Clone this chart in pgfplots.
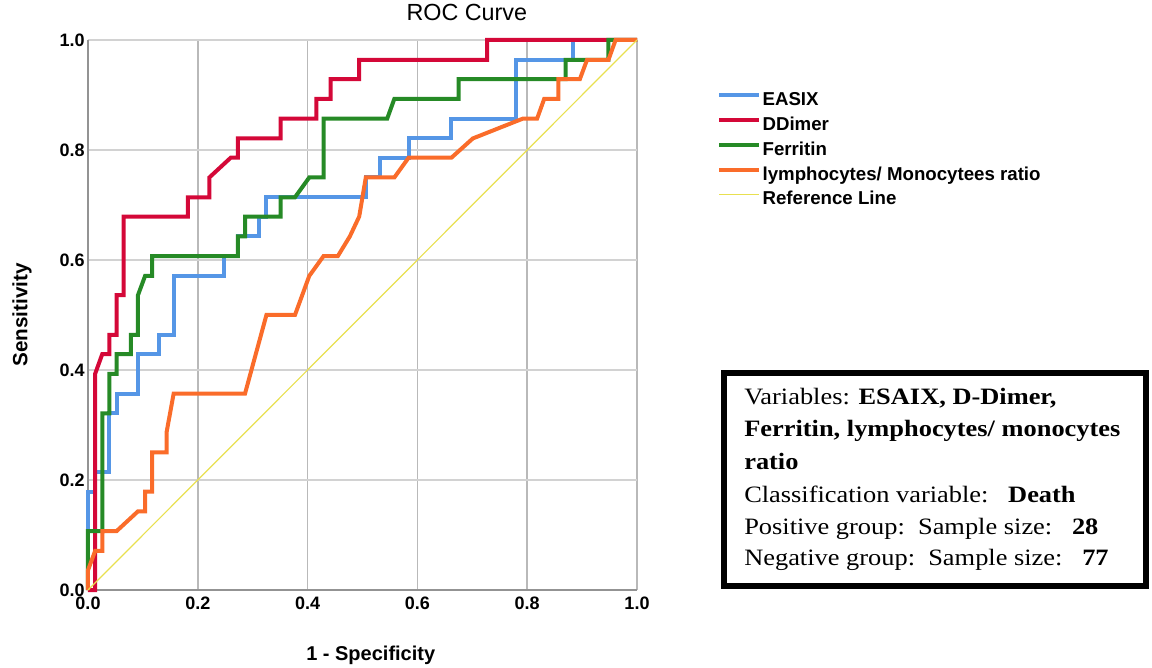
\documentclass[border=0pt]{standalone}
\usepackage{pgfplots}
\pgfplotsset{compat=1.18}
\usepackage{fontspec}
\setmainfont{Liberation Sans}
\newfontfamily\timesfont[FakeStretch=1.125]{Liberation Serif}
\definecolor{cEasix}{RGB}{85,150,230}
\definecolor{cDdimer}{RGB}{212,8,56}
\definecolor{cFerritin}{RGB}{38,138,38}
\definecolor{cLymph}{RGB}{250,108,42}
\definecolor{cRef}{RGB}{232,224,80}
\begin{document}
\begin{tikzpicture}
\useasboundingbox (0pt,0pt) rectangle (864pt,500.25pt);
\begin{axis}[
  at={(66pt,57.75pt)}, anchor=south west,
  scale only axis, width=411.75pt, height=412.5pt,
  xmin=0, xmax=1, ymin=0, ymax=1,
  xtick={0,0.2,0.4,0.6,0.8,1}, ytick={0,0.2,0.4,0.6,0.8,1},
  axis x line*=bottom, axis y line*=left,
  axis line style={draw=gray!85, line width=1.4pt},
  xmajorgrids, ymajorgrids,
  x grid style={draw=gray!55, line width=1.1pt},
  y grid style={draw=gray!35, line width=1.4pt},
  major tick length=0pt,
  clip=false,
  /pgf/number format/assume math mode=true,
  tick label style={font=\bfseries\fontsize{13.5}{15}\selectfont},
  xticklabel style={yshift=-2pt, /pgf/number format/.cd, fixed, fixed zerofill, precision=1},
  yticklabel style={xshift=1pt, /pgf/number format/.cd, fixed, fixed zerofill, precision=1},
  title={ROC Curve},
  title style={at={(axis description cs:0.69,1.036)}, anchor=center, font=\fontsize{17.5}{19}\selectfont},
  xlabel={1 - Specificity},
  xlabel style={at={(axis description cs:0.515,-0.118)}, anchor=center, font=\bfseries\fontsize{15}{17}\selectfont},
  ylabel={Sensitivity},
  ylabel style={at={(axis description cs:-0.1202,0.5)}, anchor=center, font=\bfseries\fontsize{15.5}{17}\selectfont},
  legend cell align=left,
  legend image code/.code={\draw[#1] (0pt,0pt) -- (30pt,0pt);},
  legend style={at={(axis description cs:1.1457,0.9225)}, anchor=north west, draw=none, fill=none,
    inner sep=0pt, row sep=0pt, column sep=1pt,
    font=\bfseries\fontsize{14}{16}\selectfont,
    nodes={inner sep=0pt, text height=17.05pt, text depth=1.55pt}},
]
\addplot[cEasix, line width=3pt] coordinates {
(0,0) (0,0.179) (0.013,0.179) (0.013,0.214) (0.039,0.214) (0.039,0.321) (0.052,0.321) (0.052,0.357)
(0.091,0.357) (0.091,0.429) (0.130,0.429) (0.130,0.464) (0.156,0.464) (0.156,0.571) (0.247,0.571)
(0.247,0.607) (0.273,0.607) (0.273,0.643) (0.312,0.643) (0.312,0.679) (0.325,0.679) (0.325,0.714)
(0.506,0.714) (0.506,0.75) (0.532,0.75) (0.532,0.786) (0.584,0.786) (0.584,0.821) (0.662,0.821)
(0.662,0.857) (0.779,0.857) (0.779,0.964) (0.883,0.964) (0.883,1) (1,1)};
\addlegendentry{EASIX}
\addplot[cDdimer, line width=3pt] coordinates {
(0,0) (0.013,0) (0.013,0.393) (0.026,0.429) (0.039,0.429) (0.039,0.464) (0.052,0.464) (0.052,0.536)
(0.065,0.536) (0.065,0.679) (0.182,0.679) (0.182,0.714) (0.221,0.714) (0.221,0.75) (0.260,0.786)
(0.273,0.786) (0.273,0.821) (0.351,0.821) (0.351,0.857) (0.416,0.857) (0.416,0.893) (0.442,0.893)
(0.442,0.929) (0.494,0.929) (0.494,0.964) (0.727,0.964) (0.727,1) (1,1)};
\addlegendentry{DDimer}
\addplot[cFerritin, line width=3pt] coordinates {
(0,0) (0,0.107) (0.026,0.107) (0.026,0.321) (0.039,0.321) (0.039,0.393) (0.052,0.393) (0.052,0.429)
(0.078,0.429) (0.078,0.464) (0.091,0.464) (0.091,0.536) (0.104,0.571) (0.117,0.571) (0.117,0.607)
(0.273,0.607) (0.273,0.643) (0.286,0.643) (0.286,0.679) (0.351,0.679) (0.351,0.714) (0.377,0.714)
(0.403,0.75) (0.429,0.75) (0.429,0.857) (0.545,0.857) (0.558,0.893) (0.675,0.893) (0.675,0.929)
(0.870,0.929) (0.870,0.964) (0.948,0.964) (0.948,1) (1,1)};
\addlegendentry{Ferritin}
\addplot[cLymph, line width=3pt] coordinates {
(0,0) (0,0.036) (0.013,0.071) (0.026,0.071) (0.026,0.107) (0.052,0.107) (0.091,0.143) (0.104,0.143)
(0.104,0.179) (0.117,0.179) (0.117,0.25) (0.143,0.25) (0.143,0.286) (0.156,0.357) (0.286,0.357)
(0.325,0.5) (0.377,0.5) (0.403,0.571) (0.429,0.607) (0.455,0.607) (0.477,0.643) (0.494,0.679)
(0.506,0.75) (0.558,0.75) (0.584,0.786) (0.662,0.786) (0.701,0.821) (0.792,0.857) (0.818,0.857)
(0.831,0.893) (0.857,0.893) (0.857,0.929) (0.896,0.929) (0.909,0.964) (0.948,0.964) (0.961,1) (1,1)};
\addlegendentry{lymphocytes/ Monocytees ratio}
\addplot[cRef, line width=0.9pt] coordinates {(0,0) (1,1)};
\addlegendentry{Reference Line}
\end{axis}
\draw[line width=4.5pt] (543pt,220.5pt) rectangle (859.5pt,60.75pt);
\begin{scope}[every node/.style={anchor=base west, inner sep=0pt, font=\timesfont\fontsize{17.6}{21}\selectfont}]
\node at (558pt,196.5pt) {Variables: \textbf{ESAIX, D-Dimer,}};
\node at (558pt,172.5pt) {\textbf{Ferritin, lymphocytes/ monocytes}};
\node at (558pt,147.75pt) {\textbf{ratio}};
\node at (558pt,123pt) {Classification variable:\ \ \ \textbf{Death}};
\node at (558pt,99pt) {Positive group:\ \ Sample size:\ \ \ \textbf{28}};
\node at (558pt,75.75pt) {Negative group:\ \ Sample size:\ \ \ \textbf{77}};
\end{scope}
\end{tikzpicture}
\end{document}
